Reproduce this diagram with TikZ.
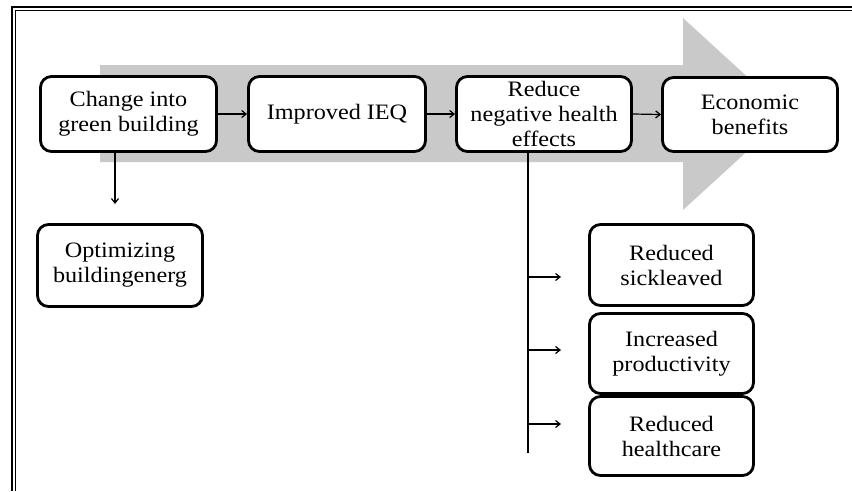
\documentclass[tikz,border=0pt]{standalone}
\usepackage{fontspec}
\setmainfont{Liberation Serif}[FakeStretch=1.1]
\usetikzlibrary{arrows.meta}
\definecolor{arrowgray}{RGB}{201,201,201}
\tikzset{
  box/.style={draw=black, line width=2.8pt, rounded corners=11pt, fill=white,
    align=center, inner sep=0pt, font=\fontsize{22}{25}\selectfont},
  arr/.style={line width=1.2pt, -{Straight Barb[length=4.5pt,width=7pt,line width=1.2pt]}},
  plain/.style={line width=1.2pt}
}
\begin{document}
\begin{tikzpicture}[x=1pt,y=-1pt]
\useasboundingbox (0,0) rectangle (852,491);
% frame
\draw[line width=2.4pt] (12,491) -- (12,7) -- (852,7);
\draw[line width=1.1pt] (15.8,491) -- (15.8,10.8) -- (852,10.8);
% big grey arrow
\fill[arrowgray] (100,65) -- (683,65) -- (683,18) -- (788,114) -- (683,210) -- (683,162) -- (100,162) -- cycle;
% top row
\node[box, minimum width=176pt, minimum height=75pt] (b1) at (128.5,114) {Change into\\green building};
\node[box, minimum width=177pt, minimum height=75pt] (b2) at (337,114) {Improved IEQ};
\node[box, minimum width=175pt, minimum height=75pt] (b3) at (544,114) {Reduce\\negative health\\effects};
\node[box, minimum width=175pt, minimum height=74pt] (b4) at (750,114.5) {Economic\\benefits};
% lower left
\node[box, minimum width=165pt, minimum height=82pt] (opt) at (120,265.5) {Optimizing\\buildingenerg};
% right column
\node[box, minimum width=164pt, minimum height=81pt] (r1) at (671.5,265) {Reduced\\sickleaved};
\node[box, minimum width=164pt, minimum height=80pt] (r2) at (671.5,353.5) {Increased\\productivity};
\node[box, minimum width=164pt, minimum height=79pt] (r3) at (671.5,436) {Reduced\\healthcare};
% connectors
\draw[arr] (b1.east) -- (b2.west);
\draw[arr] (b2.east) -- (b3.west);
\draw[arr] (b3.east) -- (b4.west);
\coordinate (d1) at (115,204);
\draw[arr] (b1.south -| d1) -- (d1);
\coordinate (vb) at (528,453);
\draw[plain] (b3.south -| vb) -- (vb);
\coordinate (h1s) at (528,277); \coordinate (h1e) at (561,277);
\coordinate (h2s) at (528,350); \coordinate (h2e) at (561,350);
\coordinate (h3s) at (528,424); \coordinate (h3e) at (561,424);
\draw[arr] (h1s) -- (h1e);
\draw[arr] (h2s) -- (h2e);
\draw[arr] (h3s) -- (h3e);
\end{tikzpicture}
\end{document}
